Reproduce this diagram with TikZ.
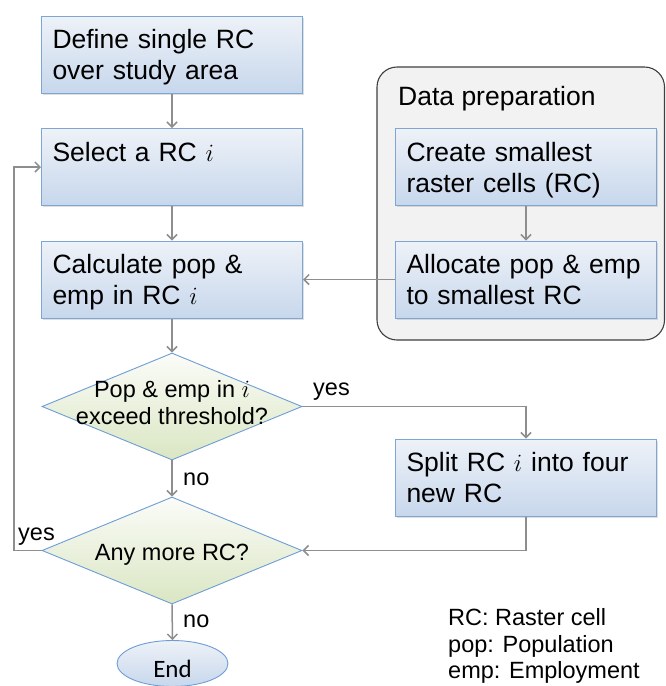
\documentclass[tikz,border=0pt]{standalone}
\usepackage{fontspec}
\setmainfont{Liberation Sans}
\newfontfamily\endfont{Carlito}
\usetikzlibrary{arrows.meta,shapes.geometric,shadows}

\definecolor{boxtop}{HTML}{EEF2F8}
\definecolor{boxbot}{HTML}{C7D7EC}
\definecolor{boxline}{HTML}{7EA6D4}
\definecolor{diatop}{HTML}{FBFCF8}
\definecolor{diabot}{HTML}{DAE6C3}
\definecolor{dialine}{HTML}{6C9DD6}
\definecolor{conncol}{HTML}{8E8E8E}
\definecolor{grpfill}{HTML}{F2F2F2}
\definecolor{grpline}{HTML}{3F3F3F}

\newcommand\topst{\rule{0pt}{25pt}}
\newcommand\botst{\rule[-6pt]{0pt}{6pt}}

\begin{document}
\begin{tikzpicture}[x=1pt,y=-1pt,
  procbox/.style={rectangle, draw=boxline, line width=1pt,
    top color=boxtop, bottom color=boxbot,
    minimum width=261pt, minimum height=77pt, text width=239pt,
    inner xsep=11pt, inner ysep=0pt, align=left,
    font=\fontsize{26.5}{31}\selectfont,
    drop shadow={shadow xshift=1pt, shadow yshift=-1.5pt, opacity=0.25}},
  decision/.style={diamond, draw=dialine, line width=0.9pt,
    top color=diatop, bottom color=diabot,
    minimum width=260pt, minimum height=107pt, inner sep=0pt},
  dtext/.style={align=center, inner sep=0pt, font=\fontsize{23.5}{27}\selectfont},
  lbl/.style={anchor=base west, inner sep=0pt, font=\fontsize{23.5}{27}\selectfont},
  grpbox/.style={rectangle, rounded corners=20pt, draw=grpline, line width=1.1pt,
    fill=grpfill, minimum width=287.5pt, minimum height=273pt},
  endnode/.style={ellipse, draw=dialine, line width=0.9pt,
    top color=boxtop, bottom color=boxbot,
    minimum width=111pt, minimum height=46pt, inner sep=0pt},
  conn/.style={draw=conncol, line width=1.5pt,
    -{Straight Barb[length=5pt,width=10pt]}},
  connplain/.style={draw=conncol, line width=1.5pt}
]
\useasboundingbox (0,0) rectangle (666,686);
\clip (0,0) rectangle (666,686);

% data preparation group
\node[grpbox] (grp) at (520.75,203.5) {};
\node[lbl, font=\fontsize{26.5}{31}\selectfont] (grpt) at (398,105) {Data preparation};

% boxes
\node[procbox] (def) at (172,54.5) {\topst Define single RC\\over study area\botst};
\node[procbox] (sel) at (172,167) {\topst Select a RC $i$\\\botst};
\node[procbox] (calc) at (172,279.5) {\topst Calculate pop \&\\emp in RC $i$\botst};
\node[procbox] (create) at (526,167) {\topst Create smallest\\raster cells (RC)\botst};
\node[procbox] (alloc) at (526,279.5) {\topst Allocate pop \& emp\\to smallest RC\botst};
\node[procbox] (split) at (526,477.5) {\topst Split RC $i$ into four\\new RC\botst};

% decisions
\node[decision] (d1) at (172,406.5) {};
\node[dtext] (d1t) at (172,403) {Pop \& emp in $i$\\exceed threshold?};
\node[decision] (d2) at (172,550.5) {};
\node[dtext, anchor=base] (d2t) at (172,560) {Any more RC?};

% end
\node[endnode] (end) at (172.5,663.5) {};
\node[anchor=base, inner sep=0pt, font=\endfont\fontsize{25}{30}\selectfont] (endt) at (172.5,677) {End};

% connectors
\draw[conn] (def.south) -- (sel.north);
\draw[conn] (sel.south) -- (calc.north);
\draw[conn] (calc.south) -- (d1.north);
\draw[conn] (d1.south) -- (d2.north);
\draw[conn] (d1.east) -| (split.north);
\draw[conn] (split.south) |- (d2.east);
\coordinate (lp) at (14,550.5);
\draw[connplain] (d2.west) -- (lp);
\draw[conn] (lp) |- (sel.west);
\draw[conn] (d2.south) -- (end.north);
\draw[conn] (create.south) -- (alloc.north);
\draw[conn] (alloc.west) -- (calc.east);

% labels
\node[lbl] (yes1) at (313,395) {yes};
\node[lbl] (no1) at (183,485) {no};
\node[lbl] (yes2) at (18,540) {yes};
\node[lbl] (no2) at (183,627) {no};

% legend
\node[lbl] (leg1) at (448,625) {RC: Raster cell};
\node[lbl] (leg2) at (448,652) {pop: Population};
\node[lbl] (leg3) at (448,678) {emp: Employment};
\end{tikzpicture}
\end{document}
